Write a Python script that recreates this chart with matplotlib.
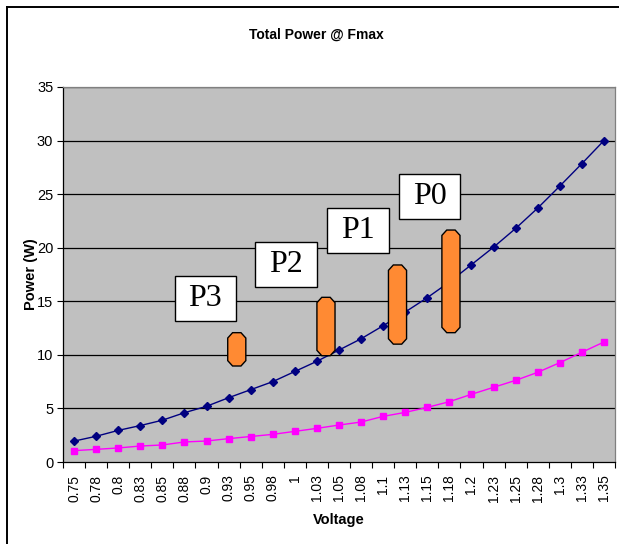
import matplotlib
matplotlib.use("Agg")
import matplotlib.pyplot as plt
from matplotlib.patches import Polygon, Rectangle
from matplotlib.lines import Line2D
import numpy as np

# ---- data ----
voltage_labels = ["0.75", "0.78", "0.8", "0.83", "0.85", "0.88", "0.9", "0.93", "0.95",
                  "0.98", "1", "1.03", "1.05", "1.08", "1.1", "1.13", "1.15", "1.18",
                  "1.2", "1.23", "1.25", "1.28", "1.3", "1.33", "1.35"]
total_power = [1.95, 2.4, 2.95, 3.4, 3.9, 4.6, 5.2, 6.0, 6.75, 7.5, 8.45, 9.4, 10.45,
               11.5, 12.72, 14.0, 15.34, 16.8, 18.42, 20.05, 21.8, 23.7, 25.75, 27.85, 30.0]
static_power = [1.06, 1.18, 1.31, 1.49, 1.59, 1.87, 1.96, 2.18, 2.38, 2.58, 2.86, 3.14,
                3.45, 3.73, 4.26, 4.63, 5.1, 5.63, 6.32, 6.97, 7.62, 8.37, 9.27, 10.24, 11.2]

# P-state annotations: label, box centre (category index, W), bar category index, bar range (W)
pstate_labels = ["P3", "P2", "P1", "P0"]
pstate_box_x = [5.95, 9.6, 12.85, 16.1]
pstate_box_y = [15.27, 18.4, 21.57, 24.74]
pstate_bar_x = [7.37, 11.41, 14.65, 17.07]
pstate_bar_lo = [8.96, 9.92, 11.0, 12.07]
pstate_bar_hi = [12.07, 15.37, 18.39, 21.65]

W, H = 619, 544
fig = plt.figure(figsize=(W / 100, H / 100), dpi=100)
fig.patch.set_facecolor("white")

narrow = ["Liberation Sans Narrow", "Liberation Sans", "DejaVu Sans"]
sans = ["Liberation Sans", "DejaVu Sans"]

ax = fig.add_axes([63 / W, 1 - 462 / H, (615 - 63) / W, (462 - 87) / H])
ax.set_facecolor("#C0C0C0")

x = np.arange(len(voltage_labels))
ax.plot(x, total_power, color="#000080", lw=1.0, marker="D", markersize=4.5,
        markerfacecolor="#000080", markeredgecolor="#000080", zorder=3)
ax.plot(x, static_power, color="#FF00FF", lw=1.0, marker="s", markersize=5,
        markerfacecolor="#FF00FF", markeredgecolor="#FF00FF", zorder=3)

ax.set_xlim(-0.5, len(voltage_labels) - 0.5)
ax.set_ylim(0, 35)
ax.set_yticks(np.arange(0, 36, 5))
for yv in np.arange(5, 36, 5):
    ax.axhline(yv, color="black", lw=0.9, zorder=1)

ax.set_xticks(x)
ax.set_xticklabels(voltage_labels, rotation=90, family=sans, fontsize=10)
ax.set_xticks(np.arange(-0.5, len(voltage_labels), 1), minor=True)
ax.tick_params(axis="x", which="major", length=0, pad=9)
ax.tick_params(axis="x", which="minor", length=4, width=0.8, direction="out", color="black")
ax.tick_params(axis="y", length=4, width=0.8, direction="out", pad=3)
for lab in ax.get_yticklabels():
    lab.set_family(narrow)
    lab.set_fontsize(10.5)

for s in ["left", "bottom"]:
    ax.spines[s].set_color("black")
    ax.spines[s].set_linewidth(0.9)
for s in ["top", "right"]:
    ax.spines[s].set_color("#808080")
    ax.spines[s].set_linewidth(0.9)

# orange chamfered bars
bw = 0.41  # half width in categories
cx = 0.22  # chamfer in categories
for bx, lo, hi in zip(pstate_bar_x, pstate_bar_lo, pstate_bar_hi):
    cy = 0.5
    pts = [(bx - bw + cx, lo), (bx + bw - cx, lo), (bx + bw, lo + cy), (bx + bw, hi - cy),
           (bx + bw - cx, hi), (bx - bw + cx, hi), (bx - bw, hi - cy), (bx - bw, lo + cy)]
    ax.add_patch(Polygon(pts, closed=True, facecolor="#FF8A33", edgecolor="black",
                         lw=1.0, zorder=4))

# label boxes
bxw, bxh = 2.8, 4.2
for lab, bx, by in zip(pstate_labels, pstate_box_x, pstate_box_y):
    ax.add_patch(Rectangle((bx - bxw / 2, by - bxh / 2), bxw, bxh, facecolor="white",
                           edgecolor="black", lw=1.0, zorder=5))
    ax.text(bx, by, lab, ha="center", va="center", fontsize=23,
            family=["Liberation Serif", "DejaVu Serif"], zorder=6)

ax.set_xlabel("Voltage", family=narrow, fontsize=10.5, fontweight="bold", labelpad=8)
ax.set_ylabel("Power (W)", family=narrow, fontsize=10.5, fontweight="bold", labelpad=-1)

fig.text(316 / W, 1 - 35 / H, "Total Power @ Fmax", ha="center", va="center",
         family=narrow, fontsize=10, fontweight="bold")

# outer chart frame (left and top edges visible)
fig.add_artist(Line2D([6.5 / W, 6.5 / W], [0, 1 - 7 / H], color="black", lw=1.4,
                      transform=fig.transFigure))
fig.add_artist(Line2D([6.5 / W, 1.0], [1 - 7 / H, 1 - 7 / H], color="black", lw=1.4,
                      transform=fig.transFigure))

fig.savefig("out.png", dpi=100)
